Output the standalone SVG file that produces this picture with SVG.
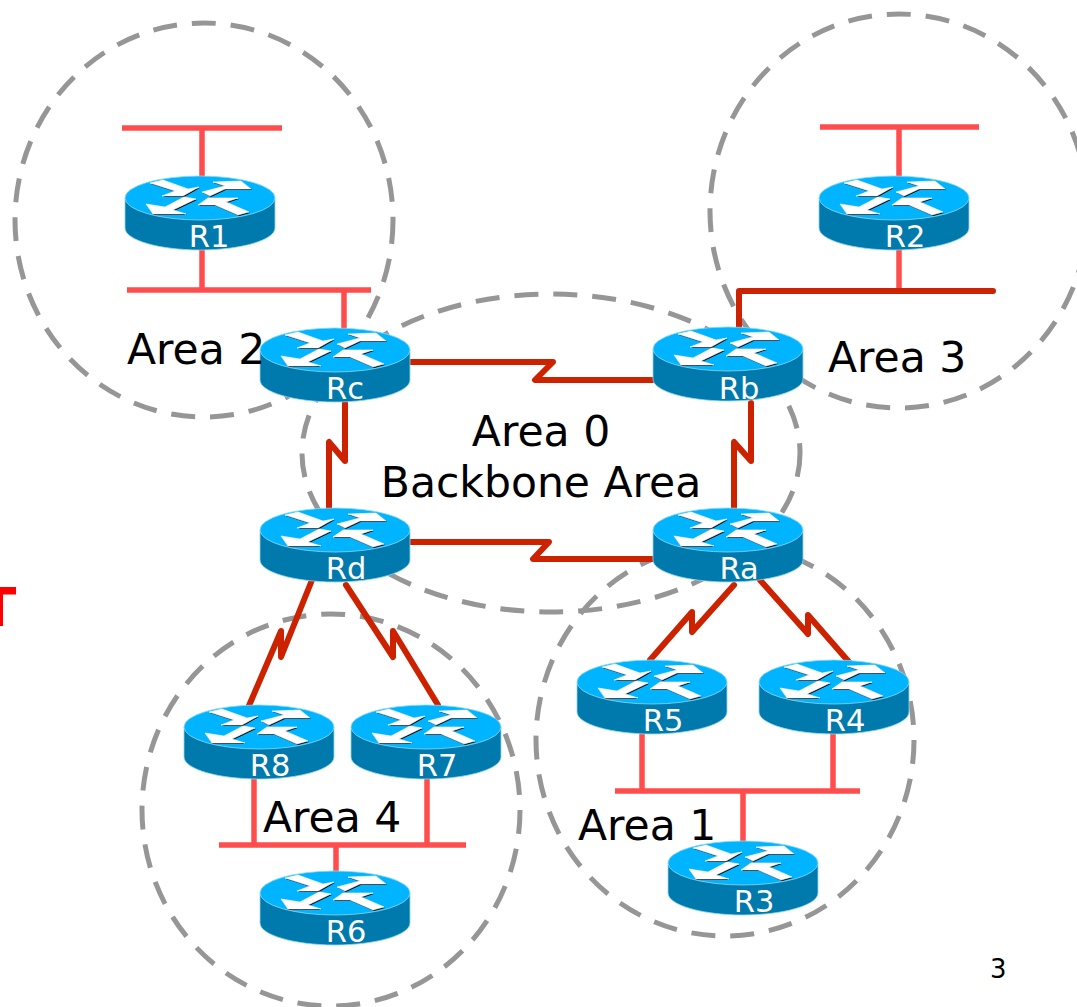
<svg xmlns="http://www.w3.org/2000/svg" xmlns:xlink="http://www.w3.org/1999/xlink" width="1077" height="1007" viewBox="0 0 1077 1007">
<style>
text{font-family:"DejaVu Sans",Verdana,sans-serif}
.area{fill:none;stroke:#969696;stroke-width:5;stroke-dasharray:24 15}
.lan{fill:none;stroke:#ff4d4d;stroke-width:5.5}
.wan{fill:none;stroke:#cc2200;stroke-width:6;stroke-linejoin:round;stroke-linecap:round}
.lbl{font-size:42.5px;fill:#000}
.rt{font-size:30.5px;fill:#fff;text-anchor:middle}
</style>
<defs>
<g id="router">
<path d="M-75 0V30C-75 42 -41 52 0 52S75 42 75 30V0Z" fill="#0079ac" stroke="#8fd8f0" stroke-width=".8"/>
<ellipse cx="0" cy="0" rx="75" ry="22" fill="#00b4ff" stroke="#8fd8f0" stroke-width=".8"/>
<g fill="#000" transform="translate(.9 .9)">
<path id="arrows" d="M-50-15L-37-18L-12-9L-1-11L-17-2L-38-2L-25-7ZM2-6L25-12L13-16L41-17L51-9L25-9L10-2ZM-54 6L-47 16L-14 16L-27 12L-4 1L-16-1L-35 9ZM-2 7L8 0L38 0L26 4L49 14L38 17L15 7Z"/>
</g>
<use xlink:href="#arrows" href="#arrows" style="fill:#fff;stroke:#fff;stroke-width:.6"/>
</g>
</defs>
<g id="areas">
<ellipse class="area" cx="204" cy="220" rx="189" ry="197"/>
<ellipse class="area" cx="899" cy="211" rx="189" ry="197"/>
<ellipse class="area" cx="551" cy="453" rx="249" ry="159"/>
<ellipse class="area" cx="331" cy="810" rx="189" ry="196"/>
<ellipse class="area" cx="725" cy="740" rx="189" ry="196"/>
</g>
<g id="connectors">
<path class="lan" d="M122 128H282M202 128V180M127 290H371M202 248V290M344 290V332"/>
<path class="lan" d="M820 127H979M899 127V180M899 248V290"/>
<path class="lan" d="M615 791H860M642 733V791M833 733V791M743 791V845"/>
<path class="lan" d="M219 845H466M254 778V845M427 778V845M336 845V874"/>
<path class="wan" d="M993 291H739V330"/>
<path class="wan" d="M410 362H553L535 380H653"/>
<path class="wan" d="M345 403V461L329 442V510"/>
<path class="wan" d="M751 403V461L734 442V510"/>
<path class="wan" d="M410 542H549L533 559H653"/>
<path class="wan" d="M734 585L692 632V612L650 660"/>
<path class="wan" d="M760 580L808 634V615L856 670"/>
<path class="wan" d="M312 580L281 657V631L248 708"/>
<path class="wan" d="M346 585L393 657V631L438 705"/>
</g>
<g id="R1"><use xlink:href="#router" href="#router" x="200" y="198"/><text class="rt" x="209" y="247">R1</text></g>
<g id="R2"><use xlink:href="#router" href="#router" x="894" y="198"/><text class="rt" x="905" y="247">R2</text></g>
<g id="Rc"><use xlink:href="#router" href="#router" x="335" y="350"/><text class="rt" x="345" y="399">Rc</text></g>
<g id="Rb"><use xlink:href="#router" href="#router" x="728" y="349"/><text class="rt" x="739" y="399">Rb</text></g>
<g id="Rd"><use xlink:href="#router" href="#router" x="335" y="530"/><text class="rt" x="346" y="579">Rd</text></g>
<g id="Ra"><use xlink:href="#router" href="#router" x="728" y="530"/><text class="rt" x="739" y="579">Ra</text></g>
<g id="R5"><use xlink:href="#router" href="#router" x="652" y="682"/><text class="rt" x="663" y="731">R5</text></g>
<g id="R4"><use xlink:href="#router" href="#router" x="834" y="682"/><text class="rt" x="845" y="731">R4</text></g>
<g id="R8"><use xlink:href="#router" href="#router" x="259" y="727"/><text class="rt" x="270" y="776">R8</text></g>
<g id="R7"><use xlink:href="#router" href="#router" x="426" y="727"/><text class="rt" x="437" y="776">R7</text></g>
<g id="R6"><use xlink:href="#router" href="#router" x="335" y="893"/><text class="rt" x="346" y="942">R6</text></g>
<g id="R3"><use xlink:href="#router" href="#router" x="743" y="863"/><text class="rt" x="754" y="912">R3</text></g>
<g id="labels">
<text class="lbl" x="127" y="364">Area 2</text>
<text class="lbl" x="828" y="372">Area 3</text>
<text class="lbl" x="541" y="446" text-anchor="middle">Area 0</text>
<text class="lbl" x="541" y="497" text-anchor="middle">Backbone Area</text>
<text class="lbl" x="263" y="832">Area 4</text>
<text class="lbl" x="578" y="840">Area 1</text>
<text x="990" y="978" font-size="26" fill="#000">3</text>
<text x="-20.5" y="626" font-size="54" font-weight="bold" fill="#f00">T</text>
</g>
</svg>
